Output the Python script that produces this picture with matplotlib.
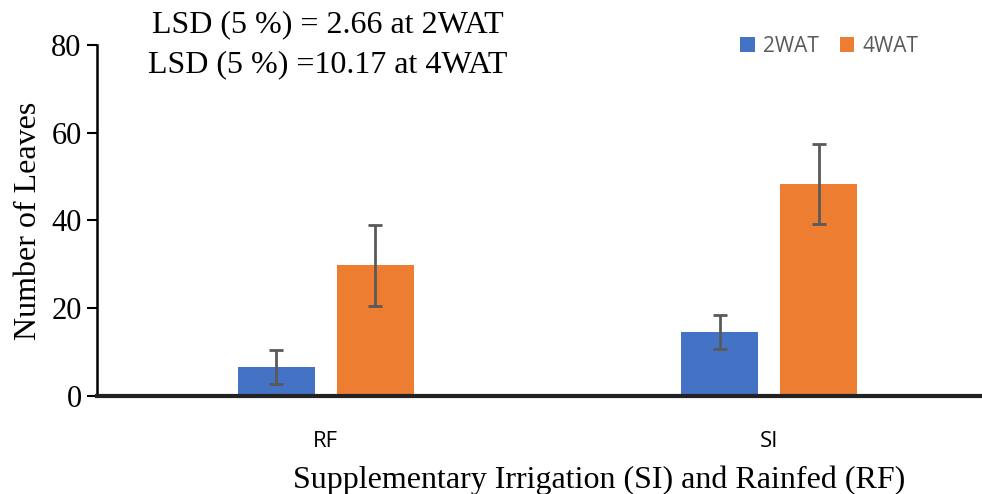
import matplotlib
matplotlib.use("Agg")
import matplotlib.pyplot as plt
import numpy as np

# data
categories = ["RF", "SI"]
series_names = ["2WAT", "4WAT"]
wat2 = [6.6, 14.6]
wat4 = [29.8, 48.3]
wat2_err = [3.9, 3.9]
wat4_err = [9.2, 9.2]
yticks = [0, 20, 40, 60, 80]

serif = ["Liberation Serif", "DejaVu Serif"]
sans = ["Open Sans", "DejaVu Sans"]

fig = plt.figure(figsize=(9.82, 4.94), dpi=100)
ax = fig.add_axes([0.0988, 0.1984, 0.899, 0.7106])

x = np.arange(len(categories))
w = 0.174
off = 0.112
ekw = dict(ecolor="#595959", elinewidth=2, capthick=2)
ax.bar(x - off, wat2, w, color="#4472C4", label=series_names[0],
       yerr=wat2_err, capsize=5, error_kw=ekw, zorder=2)
ax.bar(x + off, wat4, w, color="#ED7D31", label=series_names[1],
       yerr=wat4_err, capsize=5, error_kw=ekw, zorder=2)

ax.set_xlim(-0.516, 1.475)
ax.set_ylim(0, 80)
ax.set_yticks(yticks)
ax.set_yticklabels([str(t) for t in yticks], family=serif, fontsize=22)
ax.set_xticks(x)
ax.set_xticklabels(categories, family=sans, fontsize=16)
ax.tick_params(axis="x", length=0, pad=25)
ax.tick_params(axis="y", length=7, width=1.5, direction="out", pad=4)

for s in ["top", "right"]:
    ax.spines[s].set_visible(False)
ax.spines["left"].set_linewidth(1.8)
ax.spines["bottom"].set_linewidth(3)
ax.spines["bottom"].set_color("#222222")

ax.set_ylabel("Number of Leaves", family=serif, fontsize=23, labelpad=6)
fig.text(0.61, 0.028, "Supplementary Irrigation (SI) and Rainfed (RF)",
         family=serif, fontsize=23, ha="center", va="center")

fig.text(0.334, 0.949, "LSD (5 %) = 2.66 at 2WAT", family=serif, fontsize=23,
         ha="center", va="center")
fig.text(0.334, 0.868, "LSD (5 %) =10.17 at 4WAT", family=serif, fontsize=23,
         ha="center", va="center")

leg = ax.legend(loc="upper right", bbox_to_anchor=(0.952, 1.08), ncol=2,
                frameon=False, prop={"family": sans, "size": 15},
                handlelength=0.7, handleheight=0.7, columnspacing=1.0,
                handletextpad=0.4)
for t in leg.get_texts():
    t.set_color("#595959")

fig.savefig("out.png", dpi=100)
